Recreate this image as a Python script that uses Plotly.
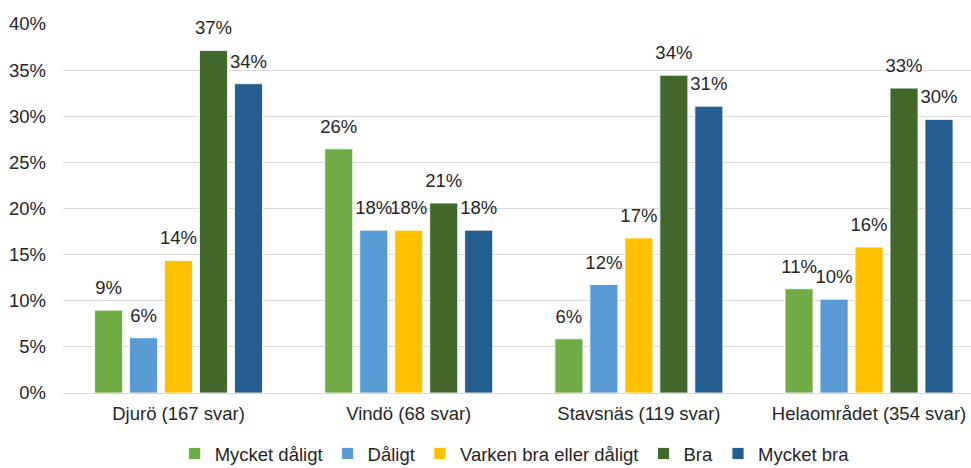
import plotly.graph_objects as go

categories = ["Djurö (167 svar)", "Vindö (68 svar)", "Stavsnäs (119 svar)", "Helaområdet (354 svar)"]
series_names = ["Mycket dåligt", "Dåligt", "Varken bra eller dåligt", "Bra", "Mycket bra"]
mycket_daligt = [0.0898, 0.2647, 0.0588, 0.1130]
daligt = [0.0599, 0.1765, 0.1176, 0.1017]
varken = [0.1437, 0.1765, 0.1681, 0.1582]
bra = [0.3713, 0.2059, 0.3445, 0.3305]
mycket_bra = [0.3353, 0.1765, 0.3109, 0.2966]
colors = ["#70AD47", "#5B9BD5", "#FFC000", "#43682B", "#255E91"]
y_ticks = [0, 0.05, 0.10, 0.15, 0.20, 0.25, 0.30, 0.35, 0.40]

FONT = "Liberation Sans, Arial, sans-serif"
FS = 18.5
series = [mycket_daligt, daligt, varken, bra, mycket_bra]

fig = go.Figure()
for name, vals, col in zip(series_names, series, colors):
    fig.add_trace(go.Bar(
        x=categories, y=vals, name=name,
        marker=dict(color=col, line=dict(color="white", width=0.8)),
        hoverinfo="skip",
    ))
# data labels, grouped like the bars
for name, vals in zip(series_names, series):
    fig.add_trace(go.Scatter(
        x=categories, y=vals, mode="markers+text", showlegend=False,
        text=[f"{round(v*100):d}%" for v in vals], textposition="top center",
        marker=dict(size=16.6, opacity=0, color="white"),
        textfont=dict(family=FONT, size=FS, color="#262626"),
        cliponaxis=False, hoverinfo="skip",
    ))

fig.update_layout(
    width=971, height=468,
    margin=dict(l=63, r=0, t=24, b=75),
    paper_bgcolor="white", plot_bgcolor="white",
    barmode="group", bargap=0.24, bargroupgap=0.2,
    scattermode="group", scattergap=0.24,
    font=dict(family=FONT, size=FS, color="#262626"),
    showlegend=True,
    legend=dict(orientation="h", x=0.53, xanchor="center", xref="container",
                y=0.03, yanchor="middle", yref="container",
                font=dict(size=FS), itemwidth=30, traceorder="normal",
                tracegroupgap=0, bgcolor="rgba(0,0,0,0)"),
    yaxis=dict(range=[0, 0.4], tickvals=y_ticks, tickformat=".0%", showgrid=True,
               gridcolor="#D9D9D9", gridwidth=1, zeroline=False, ticks="", ticklabelstandoff=16,
               showline=False),
    xaxis=dict(showline=True, linecolor="#D9D9D9", linewidth=1, ticks="",
               range=[-0.502, 3.443], ticklabelstandoff=4),
)
fig.write_html("out.html", config={"displayModeBar": False},
               post_script="document.body.style.margin='0';document.body.style.overflow='hidden';")
